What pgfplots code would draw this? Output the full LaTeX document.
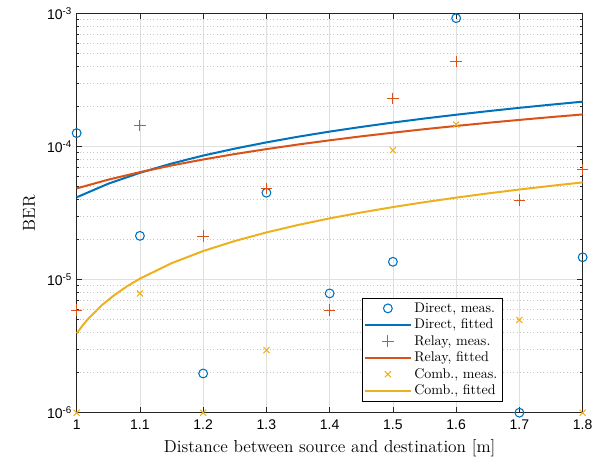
\documentclass[border=0pt]{standalone}
\usepackage{fontspec}
\usepackage{pgfplots}
\pgfplotsset{compat=1.18}
\newfontfamily\helv{Liberation Sans}
\definecolor{mblue}{rgb}{0,0.447,0.741}
\definecolor{morange}{rgb}{0.85,0.325,0.098}
\definecolor{myellow}{rgb}{0.929,0.694,0.125}
\definecolor{axgray}{rgb}{0.15,0.15,0.15}
\begin{document}
\begin{tikzpicture}[x=1pt,y=1pt]
\begin{axis}[
  at={(57.5pt,38.5pt)}, anchor=south west,
  scale only axis, width=379.5pt, height=299.5pt,
  ymode=log, xmin=1, xmax=1.8, ymin=1e-6, ymax=1e-3,
  xtick={1,1.1,1.2,1.3,1.4,1.5,1.6,1.7,1.8},
  xticklabels={1,1.1,1.2,1.3,1.4,1.5,1.6,1.7,1.8},
  ytick={1e-6,1e-5,1e-4,1e-3},
  yticklabels={10\textsuperscript{-6},10\textsuperscript{-5},10\textsuperscript{-4},10\textsuperscript{-3}},
  ticklabel style={font=\helv\fontsize{10.5}{12}\selectfont, text=black},
  xticklabel style={yshift=-2pt},
  tick align=inside, ticks=both,
  major tick length=4pt, minor tick length=2pt,
  tick style={axgray, line width=0.5pt},
  axis line style={axgray, line width=0.6pt},
  grid=both,
  major grid style={gray!25, line width=0.5pt},
  minor grid style={gray!45, dash pattern=on 0.7pt off 1.8pt, line width=0.5pt},
  minor x tick num=0,
  xminorgrids=false,
  xlabel={Distance between source and destination [m]},
  ylabel={BER},
  label style={font=\fontsize{13}{15}\selectfont},
  xlabel style={yshift=0pt},
  ylabel style={yshift=2pt},
  legend style={at={(0.841,0.0275)}, anchor=south east, font=\fontsize{10.5}{12}\selectfont,
    draw=black, line width=0.5pt, inner sep=1.5pt, row sep=-0.5pt, cells={anchor=west}},
  legend cell align=left,
  legend image code/.code={\draw[mark repeat=2,mark phase=2,#1] plot coordinates {(0cm,0cm) (0.6cm,0cm) (1.2cm,0cm)};},
  clip=false,
]
\addplot[only marks, mblue, mark=o, mark size=3.3pt, line width=0.8pt] coordinates {
(1.0,1.26e-4) (1.1,2.13e-5) (1.2,1.97e-6) (1.3,4.49e-5) (1.4,7.87e-6)
(1.5,1.36e-5) (1.6,9.2e-4) (1.7,1e-6) (1.8,1.47e-5)};
\addlegendentry{Direct, meas.}
\addplot[mblue, line width=1.5pt] coordinates {
(1.00,4.15e-5) (1.05,5.25e-5) (1.10,6.34e-5) (1.15,7.44e-5) (1.20,8.54e-5)
(1.25,9.63e-5) (1.30,1.073e-4) (1.35,1.183e-4) (1.40,1.293e-4) (1.45,1.402e-4)
(1.50,1.512e-4) (1.55,1.622e-4) (1.60,1.731e-4) (1.65,1.841e-4) (1.70,1.951e-4)
(1.75,2.060e-4) (1.80,2.170e-4)};
\addlegendentry{Direct, fitted}
\addplot[only marks, morange, mark=+, mark size=4.3pt, line width=0.8pt] coordinates {
(1.0,5.9e-6) (1.1,1.44e-4) (1.2,2.12e-5) (1.3,4.81e-5) (1.4,5.9e-6)
(1.5,2.30e-4) (1.6,4.36e-4) (1.7,3.95e-5) (1.8,6.73e-5)};
\addlegendentry{Relay, meas.}
\addplot[morange, line width=1.5pt] coordinates {
(1.00,4.84e-5) (1.05,5.63e-5) (1.10,6.41e-5) (1.15,7.20e-5) (1.20,7.98e-5)
(1.25,8.77e-5) (1.30,9.55e-5) (1.35,1.034e-4) (1.40,1.112e-4) (1.45,1.191e-4)
(1.50,1.269e-4) (1.55,1.348e-4) (1.60,1.426e-4) (1.65,1.505e-4) (1.70,1.583e-4)
(1.75,1.662e-4) (1.80,1.740e-4)};
\addlegendentry{Relay, fitted}
\addplot[only marks, myellow, mark=x, mark size=3.2pt, line width=0.8pt] coordinates {
(1.0,1e-6) (1.1,7.87e-6) (1.2,1e-6) (1.3,2.95e-6)
(1.5,9.35e-5) (1.6,1.46e-4) (1.7,4.97e-6) (1.8,1e-6)};
\addlegendentry{Comb., meas.}
\addplot[myellow, line width=1.5pt] coordinates {
(1.00,3.94e-6) (1.01,4.56e-6) (1.02,5.18e-6) (1.04,6.43e-6) (1.06,7.67e-6)
(1.08,8.92e-6) (1.10,1.016e-5) (1.15,1.327e-5) (1.20,1.638e-5) (1.25,1.949e-5)
(1.30,2.260e-5) (1.35,2.571e-5) (1.40,2.882e-5) (1.45,3.193e-5) (1.50,3.504e-5)
(1.55,3.815e-5) (1.60,4.126e-5) (1.65,4.437e-5) (1.70,4.748e-5) (1.75,5.059e-5)
(1.80,5.370e-5)};
\addlegendentry{Comb., fitted}
\end{axis}
\pgfresetboundingbox
\useasboundingbox (0,0) rectangle (455.25pt,348pt);
\end{tikzpicture}
\end{document}
